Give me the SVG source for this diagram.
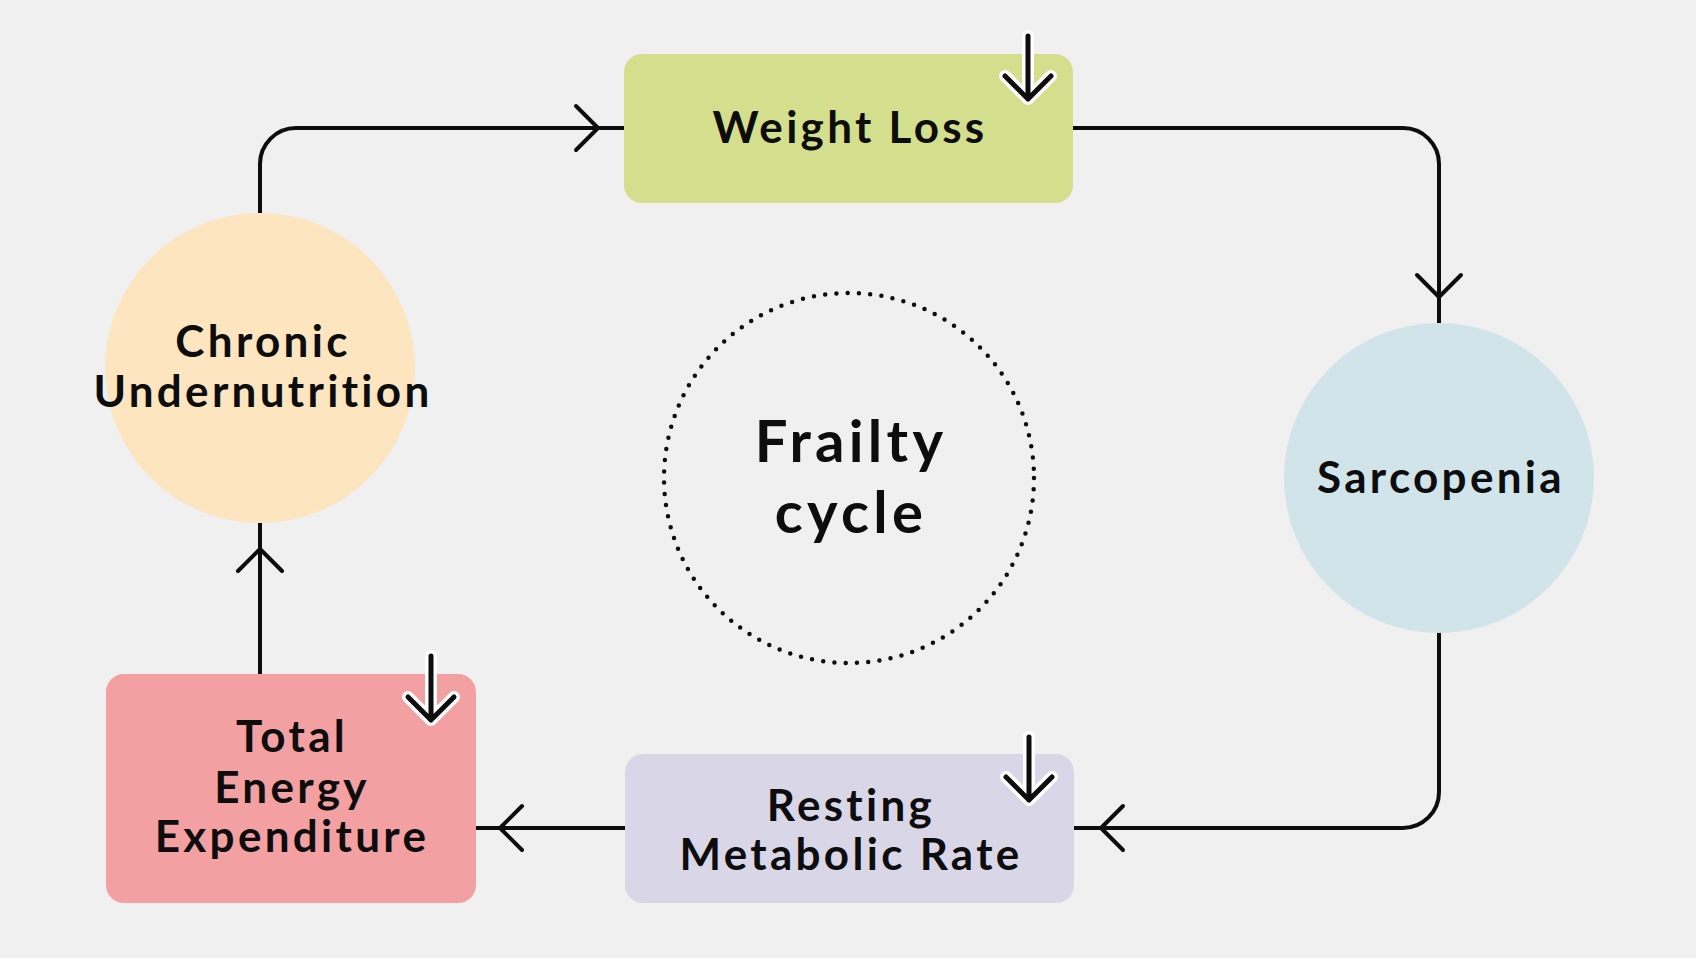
<svg xmlns="http://www.w3.org/2000/svg" width="1696" height="958" viewBox="0 0 1696 958">
<style>
.lbl{font-family:Lato,"Noto Sans","Liberation Sans",sans-serif;font-weight:700;font-size:44px;fill:#0d0d0d;text-anchor:middle;letter-spacing:3.3px}
.big{font-size:58px;letter-spacing:4.3px}
.conn{fill:none;stroke:#0d0d0d;stroke-width:4;stroke-linecap:round;stroke-linejoin:round}
.down-o{fill:none;stroke:#ffffff;stroke-width:12;stroke-linecap:round;stroke-linejoin:round}
.down{fill:none;stroke:#0d0d0d;stroke-width:5;stroke-linecap:round;stroke-linejoin:round}
</style>
<rect x="0" y="0" width="1696" height="958" fill="#f0f0f0"/>
<g id="connectors">
<path class="conn" d="M260 213 V164 A36 36 0 0 1 296 128 H624"/>
<path class="conn" d="M576 106 L598 128 L576 150"/>
<path class="conn" d="M1073 128 H1403 A36 36 0 0 1 1439 164 V323"/>
<path class="conn" d="M1417 275 L1439 297 L1461 275"/>
<path class="conn" d="M1439 633 V792 A36 36 0 0 1 1403 828 H1074"/>
<path class="conn" d="M1123 806 L1101 828 L1123 850"/>
<path class="conn" d="M625 828 H476"/>
<path class="conn" d="M522 806 L500 828 L522 850"/>
<path class="conn" d="M260 674 V523"/>
<path class="conn" d="M238 571 L260 549 L282 571"/>
</g>
<g id="frailty">
<circle cx="849" cy="478" r="185" fill="none" stroke="#0d0d0d" stroke-width="4.5" stroke-linecap="round" stroke-dasharray="0 11.3"/>
<text class="lbl big" x="851" y="462">Frailty</text>
<text class="lbl big" x="851" y="533">cycle</text>
</g>
<g id="weight-loss">
<rect x="624" y="54" width="449" height="149" rx="18" fill="#d4df8e"/>
<text class="lbl" x="850" y="143">Weight Loss</text>
<path class="down-o" d="M1028 36 V99 M1005 76 L1028 99 L1051 76"/>
<path class="down" d="M1028 36 V99 M1005 76 L1028 99 L1051 76"/>
</g>
<g id="sarcopenia">
<circle cx="1439" cy="478" r="155" fill="#d0e4e9"/>
<text class="lbl" x="1441" y="493">Sarcopenia</text>
</g>
<g id="resting">
<rect x="625" y="754" width="449" height="149" rx="18" fill="#d9d6e8"/>
<text class="lbl" x="851" y="821">Resting</text>
<text class="lbl" x="851" y="870">Metabolic Rate</text>
<path class="down-o" d="M1029 737 V800 M1006 777 L1029 800 L1052 777"/>
<path class="down" d="M1029 737 V800 M1006 777 L1029 800 L1052 777"/>
</g>
<g id="total">
<rect x="106" y="674" width="370" height="229" rx="18" fill="#f2a0a2"/>
<text class="lbl" x="292" y="752">Total</text>
<text class="lbl" x="292" y="803">Energy</text>
<text class="lbl" x="292" y="852">Expenditure</text>
<path class="down-o" d="M431 656 V720 M408 697 L431 720 L454 697"/>
<path class="down" d="M431 656 V720 M408 697 L431 720 L454 697"/>
</g>
<g id="chronic">
<circle cx="260" cy="368" r="155" fill="#fce5bf"/>
<text class="lbl" x="263" y="357">Chronic</text>
<text class="lbl" x="263" y="407">Undernutrition</text>
</g>
</svg>
